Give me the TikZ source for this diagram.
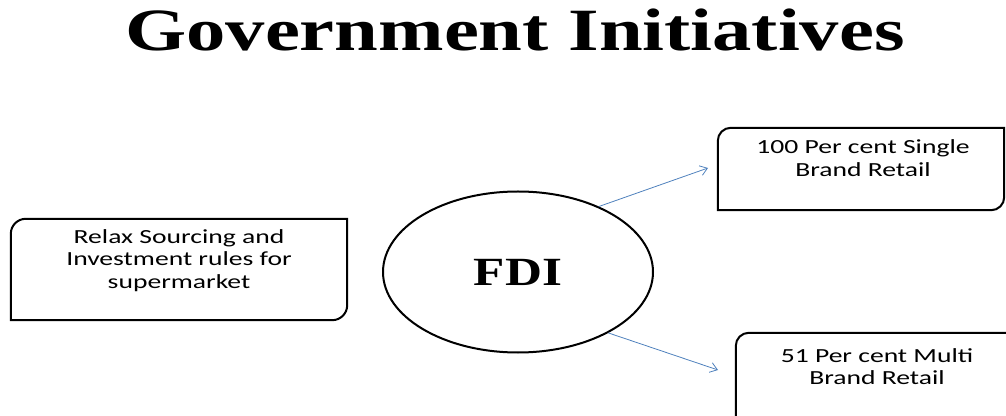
\documentclass[tikz,border=0pt]{standalone}
\usepackage{fontspec}
\setmainfont{Carlito}
\newfontfamily\titlefont{Liberation Serif}
\usetikzlibrary{positioning, arrows.meta, shapes.geometric}

\definecolor{arrowblue}{RGB}{79,129,189}

\tikzset{boxtext/.style={align=center, font=\fontsize{20}{22.5}\selectfont, inner sep=0pt, xscale=1.38, transform shape},
         framebox/.style={minimum width=#1, inner sep=0pt},
         conn/.style={draw=arrowblue, line width=0.8pt, -{Straight Barb[length=7pt,width=10pt]}}}

% frame with the top left and bottom right corners rounded
\newcommand{\diagframe}[2]{%
  \draw[line width=2pt] ([xshift=#2]#1.north west) -- (#1.north east)
    -- ([yshift=#2]#1.south east) arc[start angle=0, end angle=-90, radius=#2]
    -- (#1.south west) -- ([yshift=-#2]#1.north west)
    arc[start angle=180, end angle=90, radius=#2] -- cycle;}

\begin{document}
\begin{tikzpicture}[x=1pt, y=1pt]
            \useasboundingbox (0,0) rectangle (1006,415);
            \clip (0,0) rectangle (1006,415);
            \node[font=\titlefont\bfseries\fontsize{60}{72}\selectfont, xscale=1.31, transform shape] (title) at (515,385) {Government Initiatives};
            \node[ellipse, draw, line width=2pt, minimum width=270pt, minimum height=161pt, inner sep=0pt] (fdi) at (518,143) {};
            \node[font=\titlefont\bfseries\fontsize{40}{48}\selectfont, xscale=1.28, transform shape] (fditext) at (fdi) {FDI};
            \node[framebox=336pt, minimum height=101pt] (relaxbox) at (179,145.5) {};
            \node[framebox=286pt, minimum height=82pt] (singlebox) at (861,246) {};
            \node[framebox=284pt, minimum height=95pt] (multibox) at (878,34.5) {};
            \diagframe{relaxbox}{15pt}
            \diagframe{singlebox}{13pt}
            \diagframe{multibox}{13pt}
            \node[boxtext] (relax) at (179,154.5) {Relax Sourcing and\\Investment rules for\\supermarket};
            \node[boxtext] (single) at (863,257) {100 Per cent Single\\Brand Retail};
            \node[boxtext] (multi) at (877,48.5) {51 Per cent Multi\\Brand Retail};
            \coordinate (singletip) at (708,247);
            \coordinate (multitip) at (718,45);
            \draw[conn] (fdi.39) -- (singletip);
            \draw[conn] (fdi.-34) -- (multitip);
\end{tikzpicture}
\end{document}
